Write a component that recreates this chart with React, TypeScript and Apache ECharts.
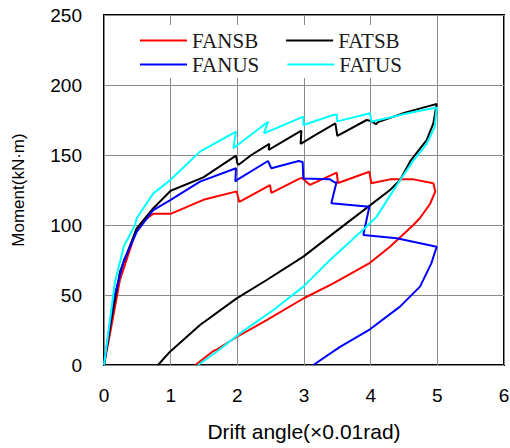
import React, { useEffect, useRef } from "react";
import * as echarts from "echarts";

const seriesNames = ["FANSB", "FATSB", "FANUS", "FATUS"];
const seriesColors = ["#ff0000", "#000000", "#0000ff", "#00ffff"];

const xTicks = [0, 1, 2, 3, 4, 5, 6];
const yTicks = [0, 50, 100, 150, 200, 250];

const fansb: number[][] = [
  [0, 0], [0.1, 25], [0.24, 61], [0.49, 97], [0.6, 103], [0.74, 108], [1.0, 108],
  [1.49, 118], [1.99, 124], [2.03, 116.5], [2.49, 128.5], [2.51, 123], [2.94, 133.3],
  [2.97, 133.5], [3.09, 128.6], [3.49, 137.4], [3.51, 130], [3.98, 138], [4.01, 129.8],
  [4.29, 132.6], [4.64, 132.6], [4.94, 129.8], [4.97, 124], [4.89, 115], [4.74, 105],
  [4.64, 100], [4.29, 84.5], [3.99, 73], [3.44, 58.3], [2.99, 47.5], [2.44, 32], [1.99, 20],
  [1.69, 11], [1.64, 10], [1.37, 0],
];

const fatsb: number[][] = [
  [0, 0], [0.1, 30], [0.24, 66.7], [0.49, 97.6], [0.74, 112], [1.0, 124.5], [1.49, 134],
  [1.98, 149.5], [2.0, 144], [2.02, 143], [2.21, 150], [2.48, 158], [2.47, 153.6],
  [2.96, 167.4], [2.95, 158], [3.16, 164], [3.47, 172.6], [3.5, 163.6], [3.94, 175],
  [3.99, 174.5], [4.08, 172], [4.11, 173.5], [4.5, 180], [4.8, 184], [4.99, 186.4],
  [4.94, 172.6], [4.84, 160.7], [4.6, 146], [4.44, 132], [4.29, 125], [3.99, 114],
  [3.44, 94], [2.99, 77.4], [2.44, 60.7], [1.99, 47.6], [1.44, 28.6], [0.99, 9.5], [0.81, 0],
];

const fanus: number[][] = [
  [0, 0], [0.14, 46.4], [0.3, 75], [0.49, 95], [0.74, 110.7], [1.0, 118], [1.44, 131],
  [1.98, 140.5], [1.97, 131], [1.99, 132], [2.46, 145.7], [2.51, 140.5], [2.92, 145.7],
  [2.98, 145], [2.99, 133.3], [3.39, 132.6], [3.48, 129.8], [3.49, 131], [3.41, 115.5],
  [3.98, 113], [3.89, 92.9], [4.39, 90.5], [4.99, 84.5], [4.91, 72.6], [4.74, 56],
  [4.44, 41.7], [3.99, 25.5], [3.54, 13], [3.14, 0],
];

const fatus: number[][] = [
  [0, 0], [0.165, 59.5], [0.3, 85], [0.465, 100], [0.49, 104.8], [0.74, 122.6],
  [0.99, 132], [1.44, 152.4], [1.98, 166.7], [1.94, 154.8], [2.46, 173.8], [2.4, 165.5],
  [2.99, 177.4], [2.99, 171.4], [3.44, 178.6], [3.49, 179], [3.5, 174],
  [3.99, 179.8], [4.01, 173.8], [4.59, 180.2], [4.99, 184], [4.96, 170], [4.84, 158],
  [4.64, 146], [4.44, 132], [4.29, 121], [4.09, 106], [3.92, 98], [3.39, 75],
  [2.99, 56], [2.54, 39.3], [2.04, 22.6], [1.69, 9.5], [1.41, 0],
];

const seriesData = [fansb, fatsb, fanus, fatus];

export default function App() {
  const ref = useRef<HTMLDivElement>(null);
  useEffect(() => {
    if (!ref.current) return;
    const chart = echarts.init(ref.current, null, { renderer: "svg" });
    const tickFont = "Liberation Sans, Arial, sans-serif";
    const legendText = {
      fontFamily: "Liberation Serif, Times New Roman, serif",
      fontSize: 21,
      color: "#1a1a1a",
    };
    const option: any = {
      animation: false,
      backgroundColor: "#ffffff",
      grid: {
        left: 104,
        top: 15,
        width: 400,
        height: 350,
        outerBoundsMode: "none",
        containLabel: false,
        show: true,
        borderColor: "#000000",
        borderWidth: 2,
        backgroundColor: "transparent",
      },
      graphic: [
        {
          type: "rect",
          z: 3,
          shape: { x: 118, y: 25, width: 300, height: 53 },
          style: { fill: "#ffffff" },
        },
      ],
      legend: [
        {
          data: [seriesNames[0], seriesNames[1]],
          left: 140,
          top: 30,
          icon: "rect",
          itemWidth: 47,
          itemHeight: 2,
          itemGap: 28,
          padding: 0,
          z: 5,
          textStyle: legendText,
        },
        {
          data: [seriesNames[2], seriesNames[3]],
          left: 140,
          top: 54,
          icon: "rect",
          itemWidth: 47,
          itemHeight: 2,
          itemGap: 28,
          padding: 0,
          z: 5,
          textStyle: legendText,
        },
      ],
      xAxis: {
        type: "value",
        min: xTicks[0],
        max: xTicks[xTicks.length - 1],
        interval: 1,
        name: "Drift angle(×0.01rad)",
        nameLocation: "middle",
        nameGap: 56,
        nameTextStyle: { fontFamily: tickFont, fontSize: 21, color: "#000" },
        axisLine: { show: false },
        axisTick: { show: false },
        axisLabel: { fontFamily: tickFont, fontSize: 19, color: "#000", margin: 21 },
        splitLine: { show: true, lineStyle: { color: "#8a8a8a", width: 1 } },
      },
      yAxis: {
        type: "value",
        min: yTicks[0],
        max: yTicks[yTicks.length - 1],
        interval: 50,
        name: "Moment(kN·m)",
        nameLocation: "middle",
        nameGap: 77,
        nameTextStyle: { fontFamily: tickFont, fontSize: 17, color: "#000" },
        axisLine: { show: false },
        axisTick: { show: false },
        axisLabel: { fontFamily: tickFont, fontSize: 19, color: "#000", margin: 22 },
        splitLine: { show: true, lineStyle: { color: "#8a8a8a", width: 1 } },
      },
      series: seriesNames.map((name, i) => ({
        name,
        type: "line",
        data: seriesData[i],
        showSymbol: false,
        symbol: "none",
        color: seriesColors[i],
        lineStyle: { color: seriesColors[i], width: 2 },
        z: 2 + i * 0.01,
      })),
    };
    chart.setOption(option);
    return () => chart.dispose();
  }, []);
  return (
    <div
      ref={ref}
      style={{ position: "absolute", left: 0, top: 0, width: 510, height: 448 }}
    />
  );
}
